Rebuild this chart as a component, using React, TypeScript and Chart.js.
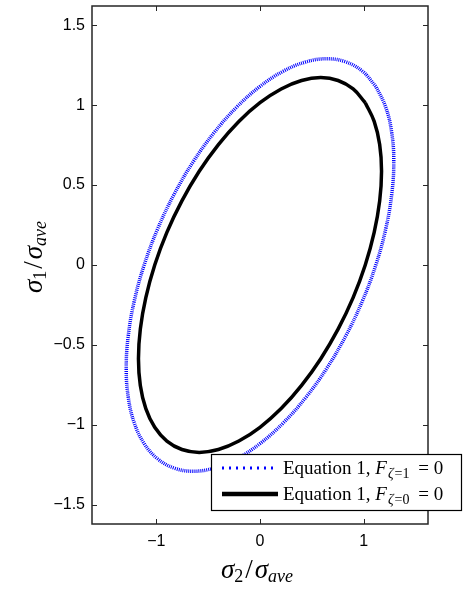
import React, { useEffect, useRef } from 'react';
import { Chart, registerables } from 'chart.js';

Chart.register(...registerables);

// Outer (blue, dotted) curve: sigma2 / sigma_ave (x) and sigma1 / sigma_ave (y)
const blueSigma2 = [1.117, 0.988, 0.829, 0.645, 0.441, 0.224, 0, -0.224, -0.441, -0.645, -0.829, -0.988, -1.117, -1.212, -1.27, -1.29, -1.27, -1.212, -1.117, -0.988, -0.829, -0.645, -0.441, -0.224, 0, 0.224, 0.441, 0.645, 0.829, 0.988, 1.117, 1.212, 1.27, 1.29, 1.27, 1.212, 1.117];
const blueSigma1 = [1.117, 1.212, 1.27, 1.29, 1.27, 1.212, 1.117, 0.988, 0.829, 0.645, 0.441, 0.224, 0, -0.224, -0.441, -0.645, -0.829, -0.988, -1.117, -1.212, -1.27, -1.29, -1.27, -1.212, -1.117, -0.988, -0.829, -0.645, -0.441, -0.224, 0, 0.224, 0.441, 0.645, 0.829, 0.988, 1.117];

// Inner (black, solid) curve
const blackSigma2 = [1.015, 0.898, 0.753, 0.586, 0.401, 0.204, 0, -0.204, -0.401, -0.586, -0.753, -0.898, -1.015, -1.101, -1.154, -1.172, -1.154, -1.101, -1.015, -0.898, -0.753, -0.586, -0.401, -0.204, 0, 0.204, 0.401, 0.586, 0.753, 0.898, 1.015, 1.101, 1.154, 1.172, 1.154, 1.101, 1.015];
const blackSigma1 = [1.015, 1.101, 1.154, 1.172, 1.154, 1.101, 1.015, 0.898, 0.753, 0.586, 0.401, 0.204, 0, -0.204, -0.401, -0.586, -0.753, -0.898, -1.015, -1.101, -1.154, -1.172, -1.154, -1.101, -1.015, -0.898, -0.753, -0.586, -0.401, -0.204, 0, 0.204, 0.401, 0.586, 0.753, 0.898, 1.015];

const xTicks = [-1, 0, 1];
const yTicks = [-1.5, -1, -0.5, 0, 0.5, 1, 1.5];
const axisMin = -1.62;
const axisMax = 1.62;

const seriesNames = ['Equation 1, F(ζ=1) = 0', 'Equation 1, F(ζ=0) = 0'];
const seriesSubscripts = ['ζ=1', 'ζ=0'];

const SERIF = '"Liberation Serif", "Times New Roman", serif';
const SANS = '"Liberation Sans", Arial, sans-serif';

type Part = { t: string; font: string; dy?: number; gapAfter?: number };

function drawParts(ctx: CanvasRenderingContext2D, parts: Part[], x: number, y: number, align: 'left' | 'center') {
  ctx.save();
  ctx.textAlign = 'left';
  ctx.textBaseline = 'alphabetic';
  let total = 0;
  const widths = parts.map((p) => {
    ctx.font = p.font;
    const w = ctx.measureText(p.t).width + (p.gapAfter || 0);
    total += w;
    return w;
  });
  let cx = align === 'center' ? x - total / 2 : x;
  parts.forEach((p, i) => {
    ctx.font = p.font;
    ctx.fillText(p.t, cx, y + (p.dy || 0));
    cx += widths[i];
  });
  ctx.restore();
}

function fmt(v: number) {
  return v < 0 ? '\u2212' + String(Math.abs(v)) : String(v);
}

const framePlugin = {
  id: 'matlabFrame',
  afterDatasetsDraw(chart: any) {
    const { ctx, chartArea } = chart;
    const { left, right, top, bottom } = chartArea;
    const xs = chart.scales.x;
    const ys = chart.scales.y;
    ctx.save();
    ctx.strokeStyle = '#262626';
    ctx.lineWidth = 1;
    ctx.beginPath();
    xTicks.forEach((v) => {
      const px = Math.round(xs.getPixelForValue(v)) + 0.5;
      ctx.moveTo(px, bottom);
      ctx.lineTo(px, bottom - 5);
      ctx.moveTo(px, top);
      ctx.lineTo(px, top + 5);
    });
    yTicks.forEach((v) => {
      const py = Math.round(ys.getPixelForValue(v)) + 0.5;
      ctx.moveTo(left, py);
      ctx.lineTo(left + 5, py);
      ctx.moveTo(right, py);
      ctx.lineTo(right - 5, py);
    });
    ctx.stroke();
    ctx.lineWidth = 1.5;
    ctx.strokeRect(left, top, right - left, bottom - top);
    ctx.restore();
  },
  afterDraw(chart: any) {
    const { ctx, chartArea } = chart;
    ctx.save();
    ctx.fillStyle = '#000';
    const big = `italic 27px ${SERIF}`;
    const bigUp = `27px ${SERIF}`;
    const sub = `18px ${SERIF}`;
    const subIt = `italic 18px ${SERIF}`;
    // x title
    drawParts(ctx, [
      { t: 'σ', font: big },
      { t: '2', font: sub, dy: 4, gapAfter: 2 },
      { t: '/', font: bigUp, gapAfter: 2 },
      { t: 'σ', font: big },
      { t: 'ave', font: subIt, dy: 4 },
    ], (chartArea.left + chartArea.right) / 2 - 3, 578, 'center');
    // y title (rotated)
    ctx.save();
    ctx.translate(42, 257);
    ctx.rotate(-Math.PI / 2);
    drawParts(ctx, [
      { t: 'σ', font: big },
      { t: '1', font: sub, dy: 4, gapAfter: 2 },
      { t: '/', font: bigUp, gapAfter: 2 },
      { t: 'σ', font: big },
      { t: 'ave', font: subIt, dy: 4 },
    ], 0, 0, 'center');
    ctx.restore();

    // legend box
    const bx = 211, by = 454, bw = 251, bh = 57;
    ctx.fillStyle = '#fff';
    ctx.fillRect(bx, by, bw, bh);
    ctx.strokeStyle = '#000';
    ctx.lineWidth = 1.2;
    ctx.strokeRect(bx + 0.5, by + 0.5, bw - 1, bh - 1);
    const rows = [468, 494];
    chart.data.datasets.forEach((ds: any, i: number) => {
      const ry = rows[i];
      ctx.save();
      ctx.strokeStyle = ds.borderColor;
      if (i === 0) {
        ctx.lineWidth = 3;
        ctx.setLineDash([2, 5]);
      } else {
        ctx.lineWidth = 4.5;
        ctx.setLineDash([]);
      }
      ctx.beginPath();
      ctx.moveTo(222, ry);
      ctx.lineTo(278, ry);
      ctx.stroke();
      ctx.restore();
      ctx.fillStyle = '#000';
      const fs = `19px ${SERIF}`;
      const sb = seriesSubscripts[i];
      drawParts(ctx, [
        { t: 'Equation 1, ', font: fs },
        { t: 'F', font: `italic 19px ${SERIF}`, gapAfter: 1 },
        { t: sb.charAt(0), font: `italic 14px ${SERIF}`, dy: 4, gapAfter: 1 },
        { t: sb.slice(1), font: `14px ${SERIF}`, dy: 4, gapAfter: 4 },
        { t: ' = 0', font: fs },
      ], 283, ry + 6, 'left');
    });
    ctx.restore();
  },
};

export default function App() {
  const ref = useRef<HTMLCanvasElement | null>(null);
  useEffect(() => {
    if (!ref.current) return;
    const toPts = (xs: number[], ys: number[]) => xs.map((x, i) => ({ x, y: ys[i] }));
    const chart = new Chart(ref.current, {
      type: 'scatter',
      data: {
        datasets: [
          {
            label: seriesNames[0],
            data: toPts(blueSigma2, blueSigma1),
            showLine: true,
            borderColor: '#0000ff',
            backgroundColor: '#0000ff',
            borderWidth: 3.5,
            borderDash: [1, 1],
            pointRadius: 0,
            tension: 0.4,
          },
          {
            label: seriesNames[1],
            data: toPts(blackSigma2, blackSigma1),
            showLine: true,
            borderColor: '#000000',
            backgroundColor: '#000000',
            borderWidth: 3.5,
            pointRadius: 0,
            tension: 0.4,
          },
        ],
      },
      options: {
        responsive: false,
        animation: false,
        devicePixelRatio: 1,
        layout: { padding: { left: 0, top: 6, right: 35, bottom: 0 } },
        plugins: { legend: { display: false }, tooltip: { enabled: false } },
        scales: {
          x: {
            type: 'linear',
            min: axisMin,
            max: axisMax,
            grid: { display: false, drawTicks: false },
            border: { display: false },
            afterBuildTicks: (s: any) => { s.ticks = xTicks.map((v) => ({ value: v })); },
            afterFit: (s: any) => { s.height = 66; s.paddingLeft = 0; s.paddingRight = 0; },
            ticks: {
              padding: 8,
              color: '#000',
              font: { family: SANS, size: 16 },
              callback: (v: any) => fmt(Number(v)),
            },
          },
          y: {
            type: 'linear',
            min: axisMin,
            max: axisMax,
            grid: { display: false, drawTicks: false },
            border: { display: false },
            afterBuildTicks: (s: any) => { s.ticks = yTicks.map((v) => ({ value: v })); },
            afterFit: (s: any) => { s.width = 92; s.paddingTop = 0; s.paddingBottom = 0; },
            ticks: {
              padding: 7,
              color: '#000',
              font: { family: SANS, size: 16 },
              callback: (v: any) => fmt(Number(v)),
            },
          },
        },
      },
      plugins: [framePlugin],
    });
    return () => chart.destroy();
  }, []);
  return (
    <div style={{ position: 'fixed', left: 0, top: 0, width: 463, height: 590, background: '#fff' }}>
      <canvas ref={ref} width={463} height={590} style={{ display: 'block' }} />
    </div>
  );
}
